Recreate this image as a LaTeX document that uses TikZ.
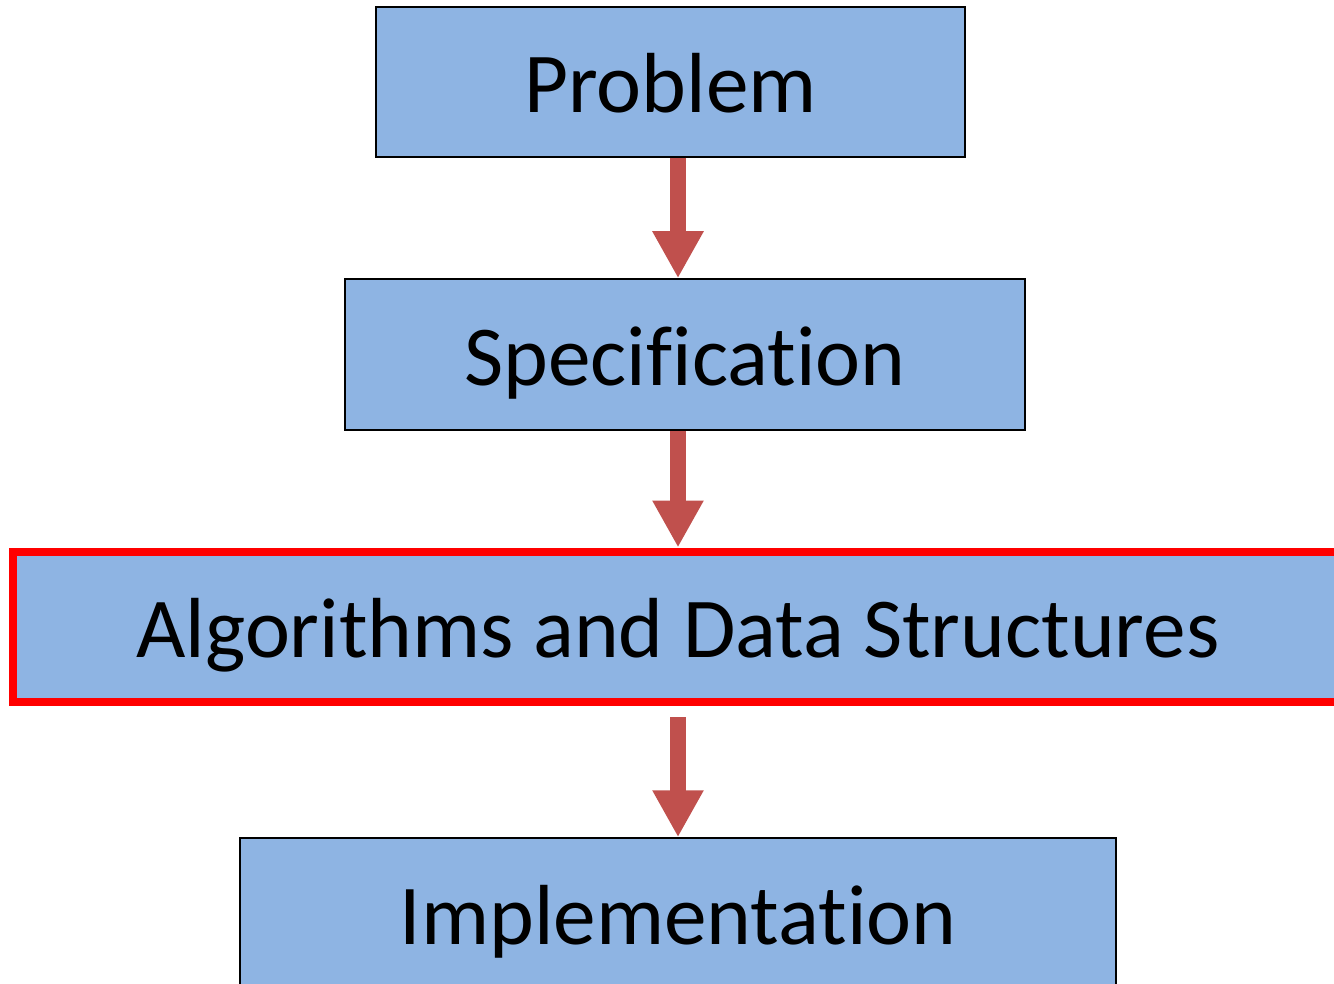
\documentclass[tikz,border=0pt]{standalone}
\usepackage{fontspec}
\setmainfont{Carlito}[RawFeature={-liga}]
\usetikzlibrary{arrows.meta}
\definecolor{boxblue}{HTML}{8EB4E3}
\definecolor{arrred}{HTML}{C0504D}
\definecolor{hilite}{HTML}{FF0000}
\begin{document}
\begin{tikzpicture}[x=1pt,y=-1pt,
  stage/.style={draw=black, line width=1.5pt, fill=boxblue, inner sep=0pt,
    text height=62pt, text depth=0pt, minimum height=150pt,
    font=\fontsize{85.3}{100}\selectfont},
  arr/.style={draw=arrred, line width=16pt, -{Triangle[width=48pt,length=47pt]}}]
\useasboundingbox (0,0) rectangle (1334,984);
\node[stage, minimum width=589pt] (p) at (670.5,82) {Problem};
\node[stage, minimum width=680pt, minimum height=151pt] (s) at (685,354.5) {Specification};
\node[stage, draw=hilite, line width=8pt, minimum width=1330pt, minimum height=150.5pt] (a) at (678,626.75) {Algorithms and Data Structures};
\node[stage, minimum width=876pt] (i) at (678,913) {Implementation};
\coordinate (ax) at (678,0);
\draw[arr] (p.south -| ax) -- (s.north -| ax);
\draw[arr] (s.south -| ax) -- (a.north -| ax);
\draw[arr, shorten <=11pt] (a.south -| ax) -- (i.north -| ax);
\end{tikzpicture}
\end{document}
